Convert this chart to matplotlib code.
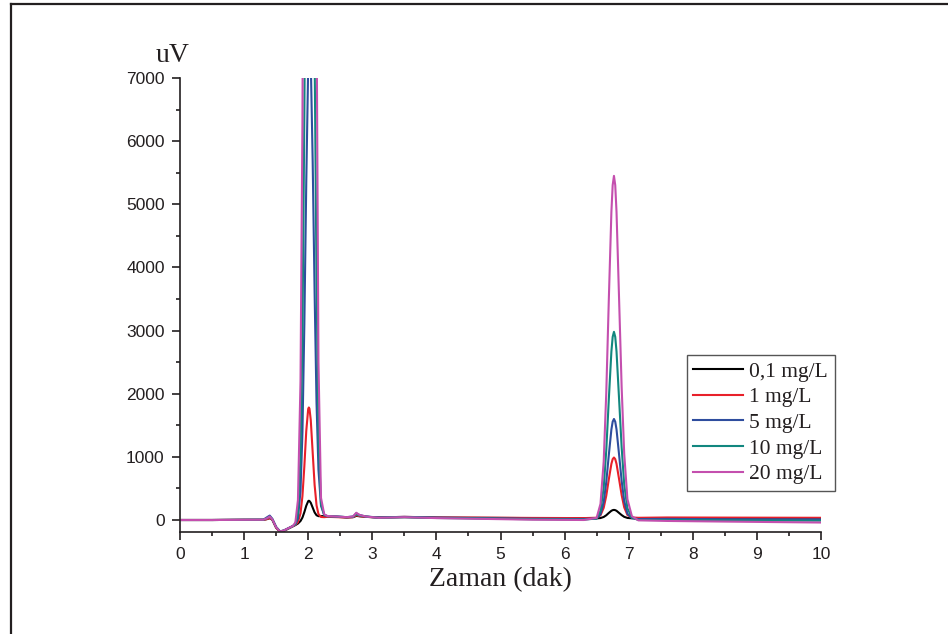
import matplotlib
matplotlib.use("Agg")
import matplotlib.pyplot as plt
from matplotlib.ticker import MultipleLocator
from matplotlib.lines import Line2D

# Retention time axis (min), shared by all chromatograms
times = [0.0, 0.5, 1.0, 1.30, 1.36, 1.40, 1.44, 1.50, 1.56, 1.62, 1.70, 1.76,
         1.80, 1.84, 1.88, 1.91, 1.94, 1.97, 2.00, 2.01, 2.02, 2.04, 2.07, 2.10, 2.13,
         2.16, 2.20, 2.25, 2.30, 2.45, 2.60, 2.70, 2.75, 2.80, 2.90, 3.10, 3.50,
         4.00, 4.60, 5.50, 6.30, 6.50, 6.56, 6.61, 6.65, 6.69, 6.73, 6.75, 6.77, 6.79, 6.81,
         6.85, 6.89, 6.93, 6.98, 7.05, 7.15, 7.60, 8.50, 10.0]

# Detector signal (uV) for each standard concentration
signal_01 = [0, 0, 3, 3, 15, 30, 5, -120, -185, -170, -130, -100,
             -80, -56, -16, 38, 125, 226, 298, 305, 300, 273, 196, 120, 75,
             61, 61, 62, 60, 50, 40, 45, 65, 60, 50, 40, 45,
             38, 35, 30, 28, 26, 31, 48, 75, 112, 146, 156, 160, 156, 146,
             112, 78, 50, 33, 27, 28, 30, 30, 30]
signal_1 = [0, 0, 3, 3, 15, 30, 5, -125, -190, -175, -130, -100,
            -77, -35, 106, 378, 852, 1412, 1760, 1782, 1762, 1584, 1067, 556, 233,
            94, 48, 45, 50, 45, 40, 45, 75, 60, 50, 40, 50,
            40, 38, 33, 30, 36, 75, 193, 384, 646, 889, 964, 990, 964, 889,
            646, 395, 200, 80, 40, 35, 40, 38, 35]
signal_5 = [0, 0, 3, 5, 45, 70, 20, -110, -180, -165, -125, -95,
            -71, 24, 459, 1384, 3104, 5363, 7190, 7450, 7605, 7260, 5674, 3594, 1856,
            797, 225, 76, 61, 55, 45, 55, 105, 80, 55, 40, 50,
            38, 30, 20, 15, 25, 90, 285, 600, 1033, 1434, 1557, 1600, 1557, 1434,
            1033, 620, 300, 100, 30, 15, 18, 12, 10]
signal_10 = [0, 0, 3, 4, 30, 50, 10, -115, -182, -168, -128, -97,
             -61, 114, 991, 2890, 6433, 11090, 14852, 15400, 15705, 14988, 11701, 7393, 3792,
             1300, 250, 80, 61, 55, 45, 50, 90, 70, 55, 35, 45,
             32, 25, 12, 5, 24, 145, 511, 1103, 1915, 2668, 2900, 2980, 2900, 2668,
             1915, 1150, 560, 185, 40, 0, 0, -5, -10]
signal_20 = [0, 0, 3, 4, 30, 55, 12, -115, -182, -165, -125, -95,
             -39, 317, 2194, 6294, 13954, 24028, 32164, 33500, 34005, 32446, 25316, 15976, 8166,
             2500, 350, 90, 63, 55, 45, 55, 115, 80, 55, 35, 45,
             30, 20, 5, 0, 35, 256, 927, 2011, 3499, 4878, 5303, 5450, 5303, 4878,
             3499, 2100, 1050, 330, 60, -5, -15, -25, -40]

labels = ["0,1 mg/L", "1 mg/L", "5 mg/L", "10 mg/L", "20 mg/L"]
colors = ["#000000", "#E8202A", "#2E4D9E", "#12877F", "#C44FAE"]
series = [signal_01, signal_1, signal_5, signal_10, signal_20]

W, H = 948, 634
fig = plt.figure(figsize=(W / 100, H / 100), dpi=100)

ax_l, ax_r, ax_t, ax_b = 180, 821, 78, 532
ax = fig.add_axes([ax_l / W, 1 - ax_b / H, (ax_r - ax_l) / W, (ax_b - ax_t) / H])

for y, c, lab in zip(series, colors, labels):
    ax.plot(times, y, color=c, lw=1.5, label=lab,
            solid_joinstyle="round", solid_capstyle="round")

ax.set_xlim(0, 10)
ax.set_ylim(-190, 7000)
ax.xaxis.set_major_locator(MultipleLocator(1))
ax.xaxis.set_minor_locator(MultipleLocator(0.5))
ax.yaxis.set_major_locator(MultipleLocator(1000))
ax.yaxis.set_minor_locator(MultipleLocator(500))

for s in ["top", "right"]:
    ax.spines[s].set_visible(False)
for s in ["left", "bottom"]:
    ax.spines[s].set_linewidth(1.2)
    ax.spines[s].set_color("#231F20")

ax.tick_params(which="major", direction="out", length=5.5, width=1.2,
               color="#231F20", labelsize=12.5, pad=5.5)
ax.tick_params(which="minor", direction="out", length=3, width=1.2, color="#231F20")
for lbl in ax.get_xticklabels() + ax.get_yticklabels():
    lbl.set_fontfamily("Liberation Sans")
    lbl.set_color("#231F20")

fig.text(500 / W, 1 - 580 / H, "Zaman (dak)", family="Liberation Serif",
         fontsize=20, ha="center", va="center", color="#231F20")
fig.text(190 / W, 1 - 62 / H, "uV", family="Liberation Serif",
         fontsize=20, ha="right", va="baseline", color="#231F20")

handles = [Line2D([], [], color=c, lw=1.5) for c in colors]
leg = fig.legend(handles, labels, loc="upper left",
                 bbox_to_anchor=(687 / W, 1 - 355 / H),
                 prop={"family": "Liberation Serif", "size": 15.5},
                 frameon=True, fancybox=False, framealpha=1,
                 borderpad=0.3, labelspacing=0.26, handlelength=2.3,
                 handletextpad=0.3, borderaxespad=0)
leg.get_frame().set_edgecolor("#555555")
leg.get_frame().set_linewidth(1.0)
for t in leg.get_texts():
    t.set_color("#231F20")

# Page frame lines (top and left)
fig.add_artist(Line2D([11 / W, 11 / W], [0, 1 - 4 / H], transform=fig.transFigure,
                      color="#231F20", lw=1.6))
fig.add_artist(Line2D([11 / W, 1], [1 - 4 / H, 1 - 4 / H], transform=fig.transFigure,
                      color="#231F20", lw=1.6))

fig.savefig("out.png", dpi=100)
